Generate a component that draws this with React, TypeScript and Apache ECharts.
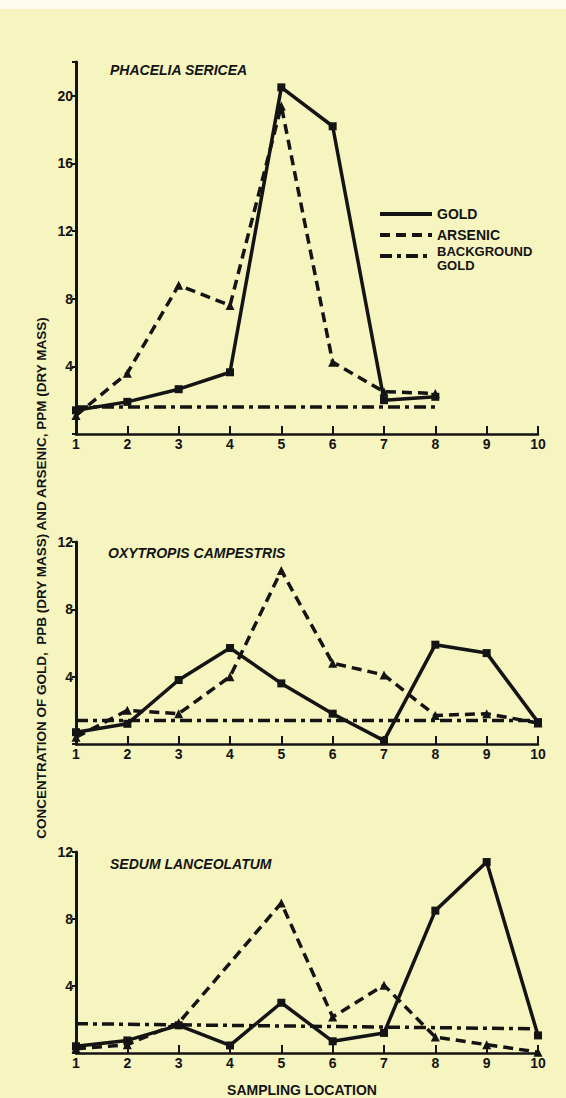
import React, { useEffect, useRef } from "react";
import * as echarts from "echarts";

// ---- data ----
const locations = [1, 2, 3, 4, 5, 6, 7, 8, 9, 10];

const phaceliaGold = [1.4, 1.9, 2.65, 3.65, 20.5, 18.2, 2.0, 2.2];
const phaceliaArsenic = [1.1, 3.6, 8.8, 7.6, 19.4, 4.25, 2.5, 2.4];
const phaceliaBgX = [1, 8];
const phaceliaBgY = [1.6, 1.6];

const oxytropisGold = [0.7, 1.2, 3.8, 5.7, 3.6, 1.8, 0.2, 5.9, 5.4, 1.3];
const oxytropisArsenic = [0.4, 2.0, 1.8, 4.0, 10.3, 4.8, 4.1, 1.7, 1.8, 1.25];
const oxytropisBgX = [1, 10];
const oxytropisBgY = [1.4, 1.4];

const sedumGold = [0.4, 0.75, 1.65, 0.45, 3.0, 0.7, 1.2, 8.5, 11.4, 1.05];
const sedumArsenic = [0.25, 0.5, 1.8, null, 8.95, 2.15, 4.05, 0.95, 0.5, 0.05];
const sedumBgX = [1, 9.85];
const sedumBgY = [1.75, 1.45];

const panelTitles = ["PHACELIA SERICEA", "OXYTROPIS CAMPESTRIS", "SEDUM LANCEOLATUM"];
const panelYMax = [22, 12, 12];
const yTickStep = 4;
const legendNames = ["GOLD", "ARSENIC", "BACKGROUND", "GOLD"];

const FONT = "'Liberation Sans', Arial, Helvetica, sans-serif";
const INK = "#141414";
const BG = "#f6f4bf";

const pairs = (vals: (number | null)[]) =>
  vals
    .map((v, i) => [locations[i], v])
    .filter((p) => p[1] !== null && p[1] !== undefined);

const zip = (xs: number[], ys: number[]) => xs.map((x, i) => [x, ys[i]]);

const LW = 3.5;
const ARSENIC_DASH = [10, 6];
const BG_DASH = [12, 5, 4, 5];

export default function App() {
  const ref = useRef<HTMLDivElement>(null);

  useEffect(() => {
    if (!ref.current) return;
    const chart = echarts.init(ref.current, undefined, { renderer: "svg" });

    const grids = [
      { left: 76, width: 462, top: 62, height: 372 },
      { left: 76, width: 462, top: 542, height: 202 },
      { left: 76, width: 462, top: 852, height: 201 },
    ];

    const xAxes = grids.map((_, i) => ({
      type: "value",
      gridIndex: i,
      min: 1,
      max: 10,
      interval: 1,
      axisLine: { show: true, lineStyle: { color: INK, width: 2.5 } },
      axisTick: { show: true, inside: true, length: 8, lineStyle: { color: INK, width: 2 } },
      axisLabel: {
        show: true,
        color: INK,
        fontFamily: FONT,
        fontSize: 14,
        fontWeight: "bold",
        margin: 3,
      },
      splitLine: { show: false },
    }));

    const yAxes = grids.map((_, i) => ({
      type: "value",
      gridIndex: i,
      min: 0,
      max: panelYMax[i],
      interval: yTickStep,
      axisLine: { show: true, lineStyle: { color: INK, width: 3 } },
      axisTick: { show: true, inside: false, length: 4, lineStyle: { color: INK, width: 2 } },
      axisLabel: {
        show: true,
        color: INK,
        fontFamily: FONT,
        fontSize: 14,
        fontWeight: "bold",
        margin: 3,
        formatter: (v: number) => (v === 0 || v % yTickStep !== 0 ? "" : String(v)),
      },
      splitLine: { show: false },
    }));

    const golds = [phaceliaGold, oxytropisGold, sedumGold];
    const arsenics = [phaceliaArsenic, oxytropisArsenic, sedumArsenic];
    const bgs = [
      zip(phaceliaBgX, phaceliaBgY),
      zip(oxytropisBgX, oxytropisBgY),
      zip(sedumBgX, sedumBgY),
    ];

    const series: any[] = [];
    for (let i = 0; i < 3; i++) {
      series.push({
        name: "BACKGROUND GOLD",
        type: "line",
        xAxisIndex: i,
        yAxisIndex: i,
        data: bgs[i],
        showSymbol: false,
        symbol: "none",
        lineStyle: { color: INK, width: LW, type: BG_DASH },
        z: 2,
      });
      series.push({
        name: "ARSENIC",
        type: "line",
        xAxisIndex: i,
        yAxisIndex: i,
        data: pairs(arsenics[i]),
        symbol: "triangle",
        symbolSize: 9,
        itemStyle: { color: INK },
        lineStyle: { color: INK, width: LW, type: ARSENIC_DASH },
        z: 3,
      });
      series.push({
        name: "GOLD",
        type: "line",
        xAxisIndex: i,
        yAxisIndex: i,
        data: pairs(golds[i]),
        symbol: "rect",
        symbolSize: 8,
        itemStyle: { color: INK },
        lineStyle: { color: INK, width: LW, type: "solid" },
        z: 4,
      });
    }

    const titlePos = [
      [110, 70],
      [108, 553],
      [110, 864],
    ];

    const legendLineY = [214, 235, 256];
    const legendTextY = [214, 235, 251, 265];
    const legendDash = [null, ARSENIC_DASH, BG_DASH];

    const graphic: any[] = [
      {
        type: "rect",
        shape: { x: 0, y: 0, width: 566, height: 9 },
        style: { fill: "#fcfbee" },
        silent: true,
      },
      ...panelTitles.map((t, i) => ({
        type: "text",
        x: titlePos[i][0],
        y: titlePos[i][1],
        style: {
          text: t,
          fill: INK,
          font: `italic bold 14px ${FONT}`,
          textAlign: "left",
          textVerticalAlign: "middle",
        },
      })),
      ...legendLineY.map((y, i) => ({
        type: "line",
        shape: { x1: 380, y1: y, x2: 432, y2: y },
        style: {
          stroke: INK,
          lineWidth: 4,
          lineDash: legendDash[i] || undefined,
        },
      })),
      ...legendNames.map((n, i) => ({
        type: "text",
        x: 437,
        y: legendTextY[i],
        style: {
          text: n,
          fill: INK,
          font: `bold ${i >= 2 ? 13 : 14}px ${FONT}`,
          textAlign: "left",
          textVerticalAlign: "middle",
        },
      })),
      {
        type: "text",
        x: 41,
        y: 578,
        rotation: Math.PI / 2,
        style: {
          text: "CONCENTRATION OF GOLD,  PPB (DRY MASS) AND ARSENIC, PPM (DRY MASS)",
          fill: INK,
          font: `bold 13.5px ${FONT}`,
          textAlign: "center",
          textVerticalAlign: "middle",
        },
      },
      {
        type: "text",
        x: 302,
        y: 1090,
        style: {
          text: "SAMPLING LOCATION",
          fill: INK,
          font: `bold 14px ${FONT}`,
          textAlign: "center",
          textVerticalAlign: "middle",
        },
      },
    ];

    chart.setOption({
      animation: false,
      backgroundColor: BG,
      grid: grids,
      xAxis: xAxes,
      yAxis: yAxes,
      series,
      graphic,
    });

    return () => chart.dispose();
  }, []);

  return (
    <div
      ref={ref}
      style={{ position: "absolute", left: 0, top: 0, width: 566, height: 1098 }}
    />
  );
}
